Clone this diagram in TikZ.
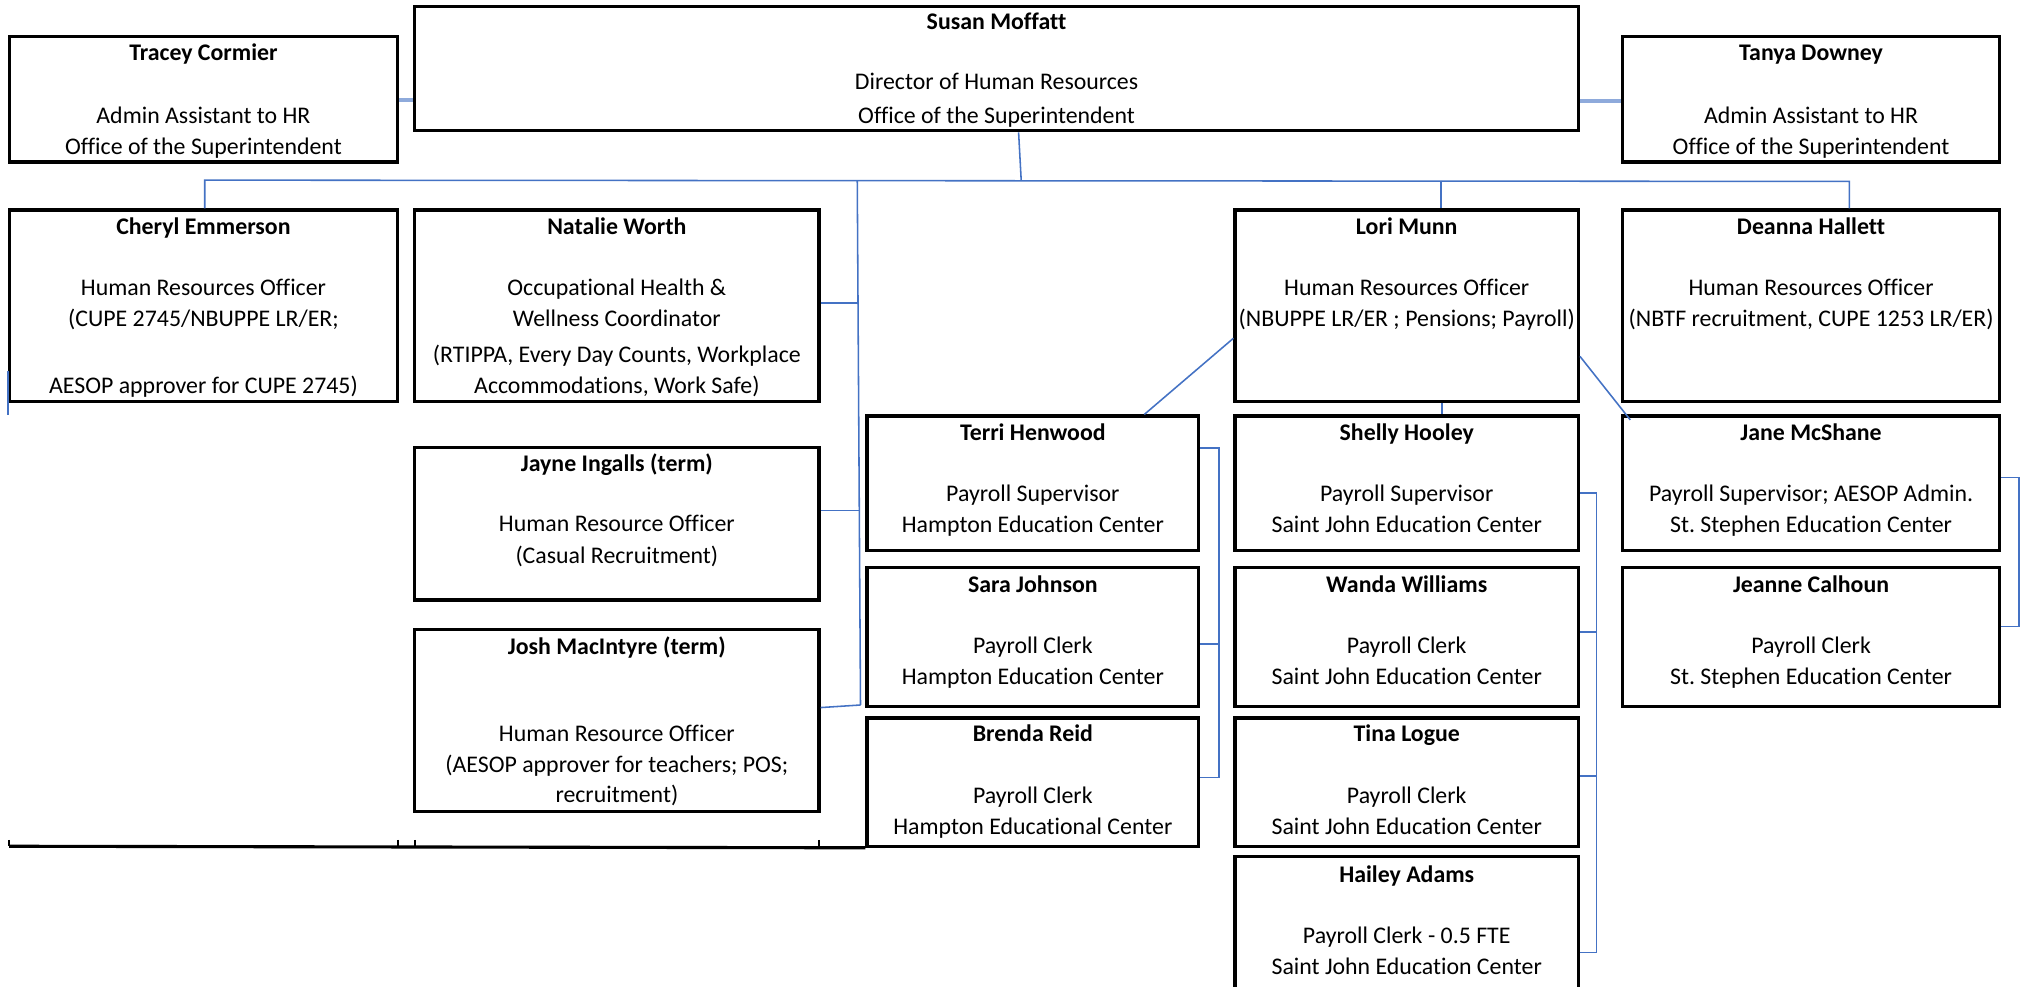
\documentclass[tikz,border=0pt]{standalone}
\usepackage{fontspec}
\setmainfont{Carlito}[Ligatures=NoCommon]
\usetikzlibrary{fit}
\frenchspacing
\definecolor{linkc}{HTML}{4472C4}
\definecolor{assistc}{HTML}{8EAADB}
\tikzset{
  orgbox/.style={draw=black, line width=2.4pt, inner sep=0pt},
  txt/.style={anchor=base, inner sep=0pt, font=\fontsize{18.4}{22}\selectfont},
  nm/.style={anchor=base, inner sep=0pt, font=\fontsize{18.4}{22}\selectfont\bfseries},
  link/.style={draw=linkc, line width=1.2pt},
  assist/.style={draw=assistc, line width=3.5pt},
  frame/.style={draw=black, line width=2.4pt},
}
\newcounter{tn}
\newcommand\tx[3]{\stepcounter{tn}\node[txt] (t\arabic{tn}) at (#1,-#2) {#3};}
\newcommand\nmx[3]{\stepcounter{tn}\node[nm] (t\arabic{tn}) at (#1,-#2) {#3};}
\newcommand\bx[5]{\node[orgbox, fit={(#2,-#3)(#4,-#5)}] (#1) {};}
\begin{document}
\begin{tikzpicture}[x=1pt,y=1pt]
\useasboundingbox[fill=white] (0,0) rectangle (1568,-761);
\clip (0,0) rectangle (1568,-761);

% top row
\bx{tracey}{7}{28}{307}{125}
\nmx{157}{47}{Tracey Cormier}
\tx{157}{95}{Admin Assistant to HR}
\tx{157}{119}{Office of the Superintendent}

\bx{susan}{320}{5}{1218}{101}
\nmx{769}{23}{Susan Moffatt}
\tx{769}{69}{Director of Human Resources}
\tx{769}{95}{Office of the Superintendent}

\bx{tanya}{1252}{28}{1543}{125}
\nmx{1397.5}{47}{Tanya Downey}
\tx{1397.5}{95}{Admin Assistant to HR}
\tx{1397.5}{119}{Office of the Superintendent}

% second row
\bx{cheryl}{7}{162}{307}{310}
\nmx{157}{181}{Cheryl Emmerson}
\tx{157}{228}{Human Resources Officer}
\tx{157}{252}{(CUPE 2745/NBUPPE LR/ER;}
\tx{157}{304}{AESOP approver for CUPE 2745)}

\bx{natalie}{320}{162}{632}{310}
\nmx{476}{181}{Natalie Worth}
\tx{476}{228}{Occupational Health \&}
\tx{476}{252}{Wellness Coordinator}
\tx{476}{280}{(RTIPPA, Every Day Counts, Workplace}
\tx{476}{304}{Accommodations, Work Safe)}

\bx{lori}{953}{162}{1218}{310}
\nmx{1085.5}{181}{Lori Munn}
\tx{1085.5}{228}{Human Resources Officer}
\tx{1085.5}{252}{(NBUPPE LR/ER ; Pensions; Payroll)}

\bx{deanna}{1252}{162}{1543}{310}
\nmx{1397.5}{181}{Deanna Hallett}
\tx{1397.5}{228}{Human Resources Officer}
\tx{1397.5}{252}{(NBTF recruitment, CUPE 1253 LR/ER)}

% column under Natalie
\bx{jayne}{320}{345}{632}{463}
\nmx{476}{364}{Jayne Ingalls (term)}
\tx{476}{410}{Human Resource Officer}
\tx{476}{435}{(Casual Recruitment)}

\bx{josh}{320}{486}{632}{626}
\nmx{476}{505}{Josh MacIntyre (term)}
\tx{476}{572}{Human Resource Officer}
\tx{476}{596}{(AESOP approver for teachers; POS;}
\tx{476}{619}{recruitment)}

% Hampton column
\bx{terri}{669}{321}{925}{425}
\nmx{797}{340}{Terri Henwood}
\tx{797}{387}{Payroll Supervisor}
\tx{797}{411}{Hampton Education Center}

\bx{sara}{669}{438}{925}{545}
\nmx{797}{457}{Sara Johnson}
\tx{797}{504}{Payroll Clerk}
\tx{797}{528}{Hampton Education Center}

\bx{brenda}{669}{554}{925}{653}
\nmx{797}{572}{Brenda Reid}
\tx{797}{620}{Payroll Clerk}
\tx{797}{644}{Hampton Educational Center}

% Saint John column
\bx{shelly}{953}{321}{1218}{425}
\nmx{1085.5}{340}{Shelly Hooley}
\tx{1085.5}{387}{Payroll Supervisor}
\tx{1085.5}{411}{Saint John Education Center}

\bx{wanda}{953}{438}{1218}{545}
\nmx{1085.5}{457}{Wanda Williams}
\tx{1085.5}{504}{Payroll Clerk}
\tx{1085.5}{528}{Saint John Education Center}

\bx{tina}{953}{554}{1218}{653}
\nmx{1085.5}{572}{Tina Logue}
\tx{1085.5}{620}{Payroll Clerk}
\tx{1085.5}{644}{Saint John Education Center}

\bx{hailey}{953}{661}{1218}{800}
\nmx{1085.5}{681}{Hailey Adams}
\tx{1085.5}{728}{Payroll Clerk - 0.5 FTE}
\tx{1085.5}{752}{Saint John Education Center}

% St. Stephen column
\bx{jane}{1252}{321}{1543}{425}
\nmx{1397.5}{340}{Jane McShane}
\tx{1397.5}{387}{Payroll Supervisor; AESOP Admin.}
\tx{1397.5}{411}{St. Stephen Education Center}

\bx{jeanne}{1252}{438}{1543}{545}
\nmx{1397.5}{457}{Jeanne Calhoun}
\tx{1397.5}{504}{Payroll Clerk}
\tx{1397.5}{528}{St. Stephen Education Center}

% leftover frame lines at the bottom
\coordinate (frameL) at (7,-653);
\draw[frame] (frameL) -- (brenda.south west);
\foreach \xx in {7,307,320,632} \draw[draw=black, line width=1.6pt] (\xx,-648) -- (\xx,-653);

% assistant connectors
\draw[assist] (tracey.east |- 0,-77) -- (susan.west |- 0,-77);
\draw[assist] (susan.east |- 0,-78) -- (tanya.west |- 0,-78);

% main trunk
\coordinate (tj) at (788,-139);
\draw[link] (susan.south -| 786,0) -- (tj);
\draw[link] (cheryl.north -| 158,0) -- (158,-139) -- (1427,-140) -- (deanna.north -| 1427,0);
\draw[link] (1112,-139.5) -- (lori.north -| 1112,0);

% Natalie / Jayne / Josh spine
\coordinate (spinetop) at (661.5,-139);
\coordinate (spinebot) at (664,-544);
\draw[link] (spinetop) -- (spinebot);
\draw[link] (natalie.east |- 0,-234) -- (662,-234);
\draw[link] (jayne.east |- 0,-394) -- (663,-394);
\draw[link] (josh.east |- 0,-546) -- (spinebot);

% Lori to her three groups
\draw[link] (lori.west |- 0,-261) -- (terri.north -| 883,0);
\draw[link] (lori.south -| 1112.7,0) -- (shelly.north -| 1112.7,0);
\coordinate (janetop) at (1258,-324);
\draw[link] (lori.east |- 0,-275) -- (janetop);

% brackets
\draw[link] (terri.east |- 0,-345.5) -- (940.5,-345.5) -- (940.5,-600) -- (brenda.east |- 0,-600);
\draw[link] (sara.east |- 0,-497) -- (940.5,-497);

\draw[link] (shelly.east |- 0,-380.6) -- (1232,-380.6) -- (1232,-735) -- (hailey.east |- 0,-735);
\draw[link] (wanda.east |- 0,-487.7) -- (1232,-487.7);
\draw[link] (tina.east |- 0,-599) -- (1232,-599);

\draw[link] (jane.east |- 0,-368.6) -- (1558,-368.6) -- (1558,-483.6) -- (jeanne.east |- 0,-483.6);

% stray line at left edge of Cheryl
\coordinate (strayA) at (6,-286);
\coordinate (strayB) at (6,-320);
\draw[link] (strayA) -- (strayB);
\end{tikzpicture}
\end{document}
